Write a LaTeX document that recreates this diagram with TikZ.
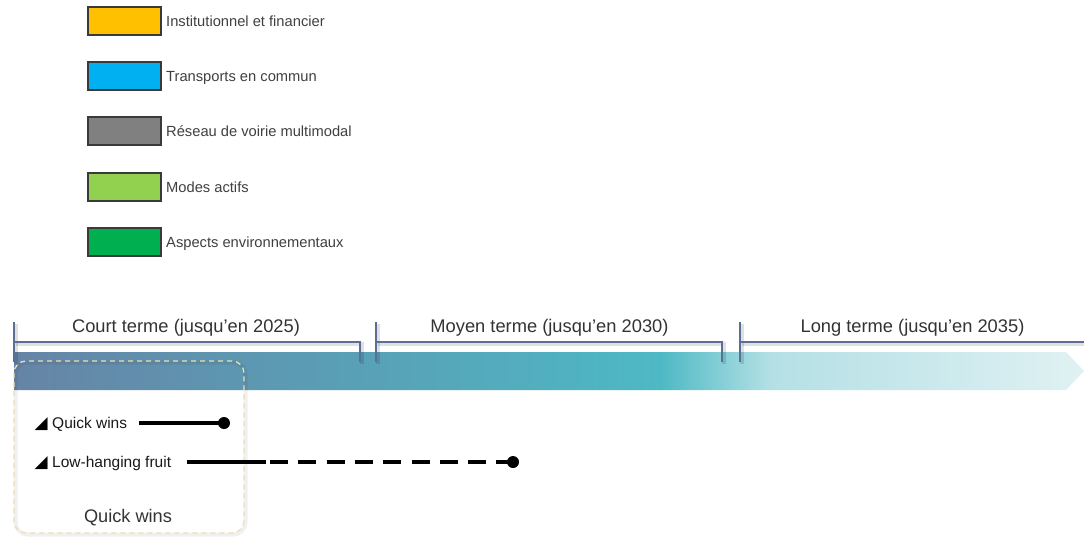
\documentclass[tikz,border=0pt]{standalone}
\usepackage{fontspec}
\setmainfont{Liberation Sans}
\newfontfamily\symfont{DejaVu Sans}
\definecolor{cyellow}{HTML}{FFC000}
\definecolor{cblue}{HTML}{00B0F0}
\definecolor{cgray}{HTML}{808080}
\definecolor{clgreen}{HTML}{92D050}
\definecolor{cgreen}{HTML}{00B050}
\definecolor{legborder}{HTML}{3A3A3A}
\definecolor{legtextc}{HTML}{404040}
\definecolor{brk}{HTML}{5A6E98}
\definecolor{bar1}{HTML}{6684A6}
\definecolor{bar2}{HTML}{4DB9C4}
\definecolor{bar3}{HTML}{B4E0E5}
\definecolor{bar4}{HTML}{E0F1F3}
\definecolor{qboxc}{HTML}{EEDFB0}
\definecolor{labc}{HTML}{333333}
\tikzset{
  legbox/.style={draw=legborder, line width=1.2pt, minimum width=73pt, minimum height=28pt, inner sep=0pt},
  legtext/.style={anchor=base west, inner sep=0pt, text=legtextc, font=\fontsize{14.7}{17}\selectfont},
  termlabel/.style={anchor=base, inner sep=0pt, text=labc, font=\fontsize{18.3}{21}\selectfont},
  bracketline/.style={draw=brk, line width=2pt},
  bracketshadow/.style={draw=black, opacity=0.12, line width=4pt},
  rowlabel/.style={anchor=base west, inner sep=0pt, text=black!90, font=\fontsize{15.5}{18}\selectfont},
  solidline/.style={line width=3.5pt, black},
  dashline/.style={line width=3.5pt, black, dash pattern=on 18pt off 10.3pt},
  enddot/.style={circle, fill=black, minimum size=12pt, inner sep=0pt},
  qbox/.style={draw=qboxc, line width=1.3pt, dash pattern=on 5pt off 4pt, rounded corners=12pt},
  tri/.style={anchor=base west, inner sep=0pt, font=\symfont\fontsize{17}{19}\selectfont},
}
\begin{document}
\begin{tikzpicture}[x=1pt,y=-1pt]
\useasboundingbox[fill=white] (0,0) rectangle (1084,536);

% legend
\node[legbox, fill=cyellow] (l1) at (124.5,21) {};
\node[legtext] (t1) at (166,26) {Institutionnel et financier};
\node[legbox, fill=cblue] (l2) at (124.5,76) {};
\node[legtext] (t2) at (166,81) {Transports en commun};
\node[legbox, fill=cgray] (l3) at (124.5,131) {};
\node[legtext] (t3) at (166,136) {Réseau de voirie multimodal};
\node[legbox, fill=clgreen] (l4) at (124.5,187) {};
\node[legtext] (t4) at (166,192) {Modes actifs};
\node[legbox, fill=cgreen] (l5) at (124.5,242) {};
\node[legtext] (t5) at (166,247) {Aspects environnementaux};

% bar arrow
\begin{scope}
\path[clip] (14,352) -- (1066,352) -- (1084,371) -- (1066,390) -- (14,390) -- cycle;
\shade[left color=bar1, right color=bar2] (14,352) rectangle (661,390);
\shade[left color=bar2, right color=bar3] (660,352) rectangle (771,390);
\shade[left color=bar3, right color=bar4] (770,352) rectangle (1084,390);
\end{scope}

% brackets (shadow)
\begin{scope}[shift={(1.5,1.5)}]
\draw[bracketshadow] (14,322) -- (14,362);
\draw[bracketshadow] (14,342) -- (360,342) -- (360,362);
\draw[bracketshadow] (376,322) -- (376,362);
\draw[bracketshadow] (376,342) -- (722,342) -- (722,362);
\draw[bracketshadow] (740,322) -- (740,362);
\draw[bracketshadow] (740,342) -- (1084,342);
\end{scope}
% brackets
\draw[bracketline] (14,322) -- (14,362);
\draw[bracketline] (14,342) -- (360,342) -- (360,362);
\draw[bracketline] (376,322) -- (376,362);
\draw[bracketline] (376,342) -- (722,342) -- (722,362);
\draw[bracketline] (740,322) -- (740,362);
\draw[bracketline] (740,342) -- (1084,342);

\node[termlabel] (court) at (186,332) {Court terme (jusqu’en 2025)};
\node[termlabel] (moyen) at (549.5,332) {Moyen terme (jusqu’en 2030)};
\node[termlabel] (long) at (912.5,332) {Long terme (jusqu’en 2035)};

% quick wins box
\draw[black, opacity=0.06, line width=4pt, rounded corners=12pt] (15.5,362.5) rectangle (245.5,534.5);
\draw[qbox] (14,361) rectangle (244,533);

% rows
\node[tri] (qwt) at (34.5,428.5) {◢};
\node[rowlabel] (qw) at (52,428.5) {Quick wins};
\node[tri] (lht) at (34.5,467.5) {◢};
\node[rowlabel] (lh) at (52,467.5) {Low-hanging fruit};
\coordinate (qws) at (139,423);
\node[enddot] (qwe) at (224,423) {};
\draw[solidline] (qws) -- (qwe.center);
\coordinate (lhs) at (187,462);
\coordinate (lhm) at (266,462);
\coordinate (lhd) at (270,462);
\node[enddot] (lhe) at (513,462) {};
\draw[solidline] (lhs) -- (lhm);
\draw[dashline] (lhd) -- (lhe.center);

\node[anchor=base, inner sep=0pt, text=labc, font=\fontsize{18.2}{21}\selectfont] (qwlabel) at (128,522) {Quick wins};
\end{tikzpicture}
\end{document}
